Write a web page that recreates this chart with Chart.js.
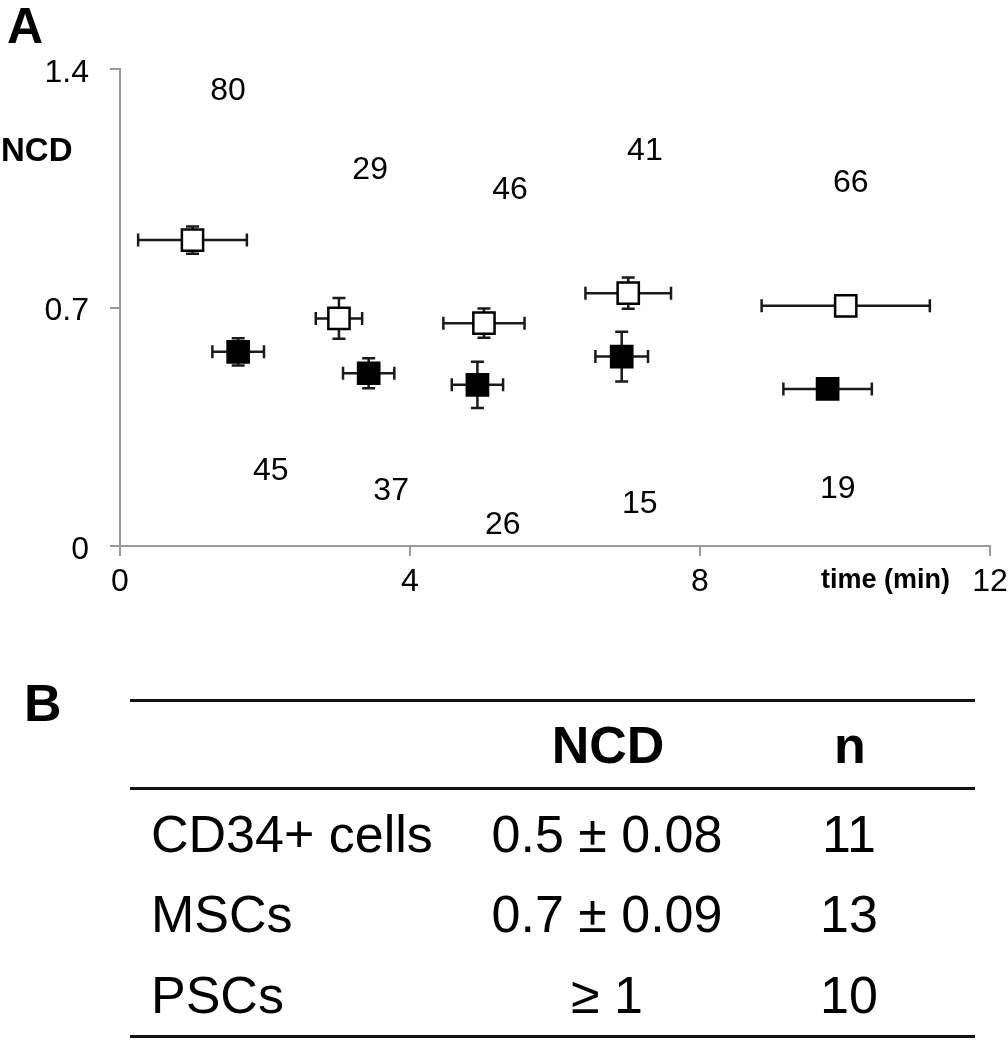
<!DOCTYPE html>
<html>
<head>
<meta charset="utf-8">
<script src="https://cdn.jsdelivr.net/npm/chart.js@4.4.1/dist/chart.umd.min.js"></script>
<style>
body { margin: 0; background: #fff; font-family: "Liberation Sans", Arial, sans-serif; color: #000; }
#page { position: relative; width: 1008px; height: 1050px; overflow: hidden; }
#chartBox { position: absolute; left: 0; top: 0; width: 1008px; height: 620px; }
.abs { position: absolute; line-height: 1; white-space: nowrap; }
.panel { font-weight: bold; font-size: 50px; }
.rule { position: absolute; left: 130px; width: 845px; height: 3px; background: #111; }
.cell { position: absolute; font-size: 52px; line-height: 1; white-space: nowrap; }
</style>
</head>
<body>
<div id="page">
  <div id="chartBox"><canvas id="ncdChart" width="1008" height="620"></canvas></div>
  <div class="abs panel" style="left:7px; top:1px;">A</div>
  <div class="abs" style="left:1px; top:133px; font-weight:bold; font-size:33px;">NCD</div>
  <div class="abs" style="left:821px; top:566px; font-weight:bold; font-size:27px;">time (min)</div>
  <div class="abs panel" style="left:24px; top:677px; font-size:52px;">B</div>
  <div id="table"></div>
</div>
<script>
// panel A: open squares and filled squares, mean +/- error in x and y
const timeOpen = [1.0, 3.02, 5.02, 7.01, 10.01];
const ncdOpen = [0.898, 0.668, 0.654, 0.742, 0.705];
const timeErrOpen = [0.75, 0.32, 0.56, 0.59, 1.16];
const ncdErrOpen = [0.04, 0.06, 0.043, 0.046, 0.02];

const timeFilled = [1.63, 3.43, 4.93, 6.92, 9.76];
const ncdFilled = [0.570, 0.507, 0.473, 0.556, 0.461];
const timeErrFilled = [0.356, 0.354, 0.354, 0.363, 0.61];
const ncdErrFilled = [0.04, 0.044, 0.068, 0.073, 0.02];

// n counts written on the plot
const countLabels = ['80', '29', '46', '41', '66', '45', '37', '26', '15', '19'];
const countX = [1.49, 3.45, 5.38, 7.24, 10.08, 2.08, 3.74, 5.28, 7.17, 9.90];
const countY = [1.335, 1.102, 1.043, 1.16, 1.066, 0.221, 0.162, 0.06, 0.124, 0.168];

const xTicks = [0, 4, 8, 12];
const yTicks = [0, 0.7, 1.4];

// panel B
const tableHeader = ['', 'NCD', 'n'];
const tableRows = ['CD34+ cells', 'MSCs', 'PSCs'];
const tableNcd = ['0.5 \u00b1 0.08', '0.7 \u00b1 0.09', '\u2265 1'];
const tableN = ['11', '13', '10'];

const toPoints = (xs, ys) => xs.map((x, i) => ({ x: x, y: ys[i] }));

const errorBars = {
  id: 'errorBars',
  beforeDatasetsDraw(chart) {
    const ctx = chart.ctx;
    const xs = chart.scales.x, ys = chart.scales.y;
    const cap = 6.5;
    ctx.save();
    ctx.strokeStyle = '#1a1a1a';
    ctx.lineWidth = 2.5;
    chart.data.datasets.forEach(ds => {
      ds.data.forEach((p, i) => {
        const px = xs.getPixelForValue(p.x), py = ys.getPixelForValue(p.y);
        const xl = xs.getPixelForValue(p.x - ds.xErr[i]), xr = xs.getPixelForValue(p.x + ds.xErr[i]);
        const yt = ys.getPixelForValue(p.y + ds.yErr[i]), yb = ys.getPixelForValue(p.y - ds.yErr[i]);
        ctx.beginPath();
        ctx.moveTo(xl, py); ctx.lineTo(xr, py);
        ctx.moveTo(xl, py - cap); ctx.lineTo(xl, py + cap);
        ctx.moveTo(xr, py - cap); ctx.lineTo(xr, py + cap);
        ctx.moveTo(px, yt); ctx.lineTo(px, yb);
        ctx.moveTo(px - cap, yt); ctx.lineTo(px + cap, yt);
        ctx.moveTo(px - cap, yb); ctx.lineTo(px + cap, yb);
        ctx.stroke();
      });
    });
    ctx.restore();
  }
};

const countText = {
  id: 'countText',
  afterDatasetsDraw(chart) {
    const ctx = chart.ctx;
    ctx.save();
    ctx.fillStyle = '#000';
    ctx.font = '32px "Liberation Sans", Arial, sans-serif';
    ctx.textAlign = 'center';
    ctx.textBaseline = 'middle';
    countLabels.forEach((t, i) => {
      ctx.fillText(t, chart.scales.x.getPixelForValue(countX[i]), chart.scales.y.getPixelForValue(countY[i]));
    });
    ctx.restore();
  }
};

Chart.defaults.font.family = '"Liberation Sans", Arial, sans-serif';
Chart.defaults.color = '#000';

new Chart(document.getElementById('ncdChart'), {
  type: 'scatter',
  data: {
    datasets: [{
      data: toPoints(timeOpen, ncdOpen),
      xErr: timeErrOpen,
      yErr: ncdErrOpen,
      pointStyle: 'rect',
      pointRadius: 15,
      pointBorderWidth: 2.5,
      pointBackgroundColor: '#fff',
      pointBorderColor: '#000'
    }, {
      data: toPoints(timeFilled, ncdFilled),
      xErr: timeErrFilled,
      yErr: ncdErrFilled,
      pointStyle: 'rect',
      pointRadius: 15,
      pointBorderWidth: 2.5,
      pointBackgroundColor: '#000',
      pointBorderColor: '#000'
    }]
  },
  options: {
    responsive: false,
    animation: false,
    layout: { padding: { top: 69, right: 18, left: 0, bottom: 0 } },
    plugins: { legend: { display: false }, tooltip: { enabled: false } },
    scales: {
      x: {
        type: 'linear', min: 0, max: 12,
        afterFit: s => { s.height = 74; s.paddingLeft = 0; s.paddingRight = 0; },
        afterBuildTicks: s => { s.ticks = xTicks.map(v => ({ value: v })); },
        border: { display: true, color: '#9a9a9a', width: 2 },
        grid: { drawOnChartArea: false, drawTicks: true, tickLength: 10, color: '#9a9a9a', lineWidth: 2 },
        ticks: { font: { size: 32 }, padding: 7, maxRotation: 0, autoSkip: false }
      },
      y: {
        type: 'linear', min: 0, max: 1.4,
        afterFit: s => { s.width = 120; s.paddingTop = 0; s.paddingBottom = 0; },
        afterBuildTicks: s => { s.ticks = yTicks.map(v => ({ value: v })); },
        border: { display: true, color: '#9a9a9a', width: 2 },
        grid: { drawOnChartArea: false, drawTicks: true, tickLength: 10, color: '#9a9a9a', lineWidth: 2 },
        ticks: { font: { size: 32 }, padding: 21, labelOffset: 4, callback: v => String(v) }
      }
    }
  },
  plugins: [errorBars, countText]
});

// table of panel B
const table = document.getElementById('table');
const addRule = y => {
  const d = document.createElement('div');
  d.className = 'rule';
  d.style.top = y + 'px';
  table.appendChild(d);
};
const addCell = (text, x, yMid, align, bold) => {
  const d = document.createElement('div');
  d.className = 'cell';
  d.textContent = text;
  d.style.top = (yMid - 26) + 'px';
  if (align === 'left') d.style.left = x + 'px';
  else { d.style.left = (x - 200) + 'px'; d.style.width = '400px'; d.style.textAlign = 'center'; }
  if (bold) d.style.fontWeight = 'bold';
  table.appendChild(d);
};
addRule(699);
addRule(787);
addRule(1035);
addCell(tableHeader[1], 608, 745, 'center', true);
addCell(tableHeader[2], 850, 745, 'center', true);
const rowMid = [834, 914, 995];
tableRows.forEach((r, i) => {
  addCell(r, 151, rowMid[i], 'left', false);
  addCell(tableNcd[i], 607, rowMid[i], 'center', false);
  addCell(tableN[i], 849, rowMid[i], 'center', false);
});
</script>
</body>
</html>
